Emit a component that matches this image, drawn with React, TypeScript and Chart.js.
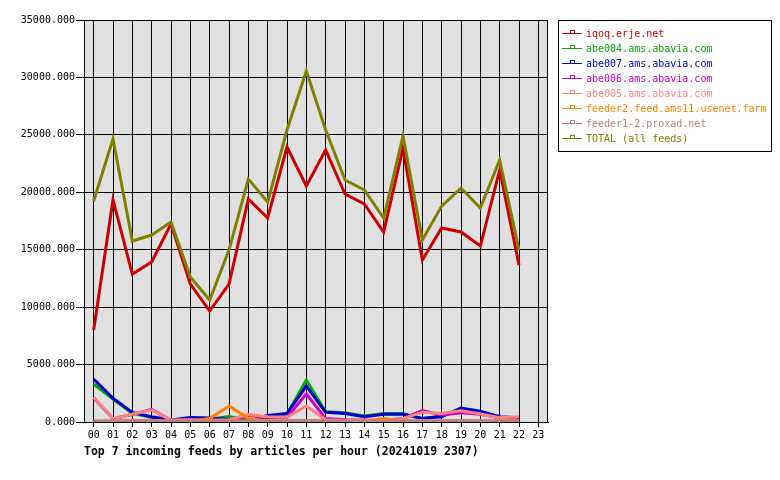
import React, { useEffect, useRef } from "react";
import { Chart, registerables } from "chart.js";

Chart.register(...registerables);

const hours = ["00","01","02","03","04","05","06","07","08","09","10","11","12","13","14","15","16","17","18","19","20","21","22","23"];

const iqoq = [8010,19330,12880,13930,17240,12010,9660,12010,19410,17760,23940,20550,23680,19850,18980,16540,23850,14100,16890,16540,15320,21940,13670];
const abe004 = [3310,2000,750,400,120,350,250,480,150,250,700,3650,900,810,520,750,750,260,550,1000,750,350,380];
const abe007 = [3740,2060,840,460,170,400,350,230,100,560,750,3130,840,730,460,670,670,320,460,1220,930,460,380];
const abe006 = [2100,290,650,1100,150,200,150,200,600,420,400,2440,300,200,150,150,300,1000,610,810,670,380,400];
const abe005 = [2150,290,670,1040,170,200,150,200,650,460,420,1390,200,150,150,150,300,840,750,980,700,380,460];
const feeder2 = [50,60,60,80,40,50,300,1390,320,80,60,80,60,60,60,300,80,60,60,60,60,60,60];
const feeder1 = [110,110,120,120,110,110,110,120,110,110,120,120,110,110,110,110,120,110,110,120,110,110,110];
const total = [19240,24640,15760,16280,17410,12620,10620,14970,21150,19150,25420,30560,25420,21070,20200,17760,24900,15850,18800,20370,18630,22810,14970];

const seriesNames = [
  "iqoq.erje.net",
  "abe004.ams.abavia.com",
  "abe007.ams.abavia.com",
  "abe006.ams.abavia.com",
  "abe005.ams.abavia.com",
  "feeder2.feed.ams11.usenet.farm",
  "feeder1-2.proxad.net",
  "TOTAL (all feeds)",
];
const seriesColors = ["#cc0000","#00aa00","#0000cc","#cc00cc","#ff8080","#ff8000","#c08080","#808000"];
const seriesData = [iqoq, abe004, abe007, abe006, abe005, feeder2, feeder1, total];
const titleText = "Top 7 incoming feeds by articles per hour (20241019 2307)";
const yTicks = [0,5000,10000,15000,20000,25000,30000,35000];

const MONO = "'DejaVu Sans Mono', 'Liberation Mono', monospace";

const overlayPlugin = {
  id: "overlay",
  afterDraw(chart: any) {
    const ctx = chart.ctx;
    const a = chart.chartArea;
    ctx.save();
    // plot frame
    ctx.strokeStyle = "#000000";
    ctx.lineWidth = 1;
    ctx.strokeRect(Math.round(a.left) + 0.5, Math.round(a.top) + 0.5, Math.round(a.right - a.left) - 1, Math.round(a.bottom - a.top));
    // legend box
    const bx = 558, by = 20, bw = 213, bh = 131;
    ctx.fillStyle = "#ffffff";
    ctx.fillRect(bx, by, bw, bh);
    ctx.strokeStyle = "#000000";
    ctx.lineWidth = 1;
    ctx.strokeRect(bx + 0.5, by + 0.5, bw, bh);
    ctx.font = "10px " + MONO;
    ctx.textBaseline = "middle";
    ctx.textAlign = "left";
    seriesNames.forEach((name, i) => {
      const y = 33 + i * 15;
      const c = seriesColors[i];
      ctx.strokeStyle = c;
      ctx.lineWidth = 1;
      ctx.beginPath();
      ctx.moveTo(562, y + 0.5);
      ctx.lineTo(582, y + 0.5);
      ctx.stroke();
      ctx.strokeRect(570.5, y - 2.5, 4, 3);
      ctx.fillStyle = c;
      ctx.fillText(name, 586, y + 1);
    });
    // title
    ctx.fillStyle = "#000000";
    ctx.font = "bold 11.5px " + MONO;
    ctx.textAlign = "left";
    ctx.fillText(titleText, 84, 452);
    ctx.restore();
  },
};

const bgPlugin = {
  id: "plotbg",
  beforeDraw(chart: any) {
    const { ctx, chartArea } = chart;
    ctx.save();
    ctx.fillStyle = "#ffffff";
    ctx.fillRect(0, 0, chart.width, chart.height);
    ctx.fillStyle = "#e0e0e0";
    ctx.fillRect(chartArea.left, chartArea.top, chartArea.right - chartArea.left, chartArea.bottom - chartArea.top);
    ctx.restore();
  },
};

export default function App() {
  const ref = useRef<HTMLCanvasElement>(null);
  useEffect(() => {
    if (!ref.current) return;
    const n = seriesNames.length;
    const chart = new Chart(ref.current, {
      type: "line",
      data: {
        labels: hours,
        datasets: seriesNames.map((name, i) => ({
          label: name,
          data: seriesData[i],
          borderColor: seriesColors[i],
          backgroundColor: seriesColors[i],
          borderWidth: 3,
          pointRadius: 0,
          tension: 0,
          fill: false,
          order: n - 1 - i,
        })),
      },
      options: {
        animation: false,
        responsive: false,
        maintainAspectRatio: false,
        layout: { padding: { left: 0, right: 232, top: 20, bottom: 0 } },
        plugins: {
          legend: { display: false },
          title: { display: false },
          tooltip: { enabled: false },
        },
        scales: {
          x: {
            offset: true,
            grid: { color: "#000000", lineWidth: 1, offset: false, tickLength: 5, drawTicks: true },
            border: { color: "#000000", width: 1 },
            ticks: { color: "#000000", font: { family: MONO, size: 10 }, padding: 2, maxRotation: 0, autoSkip: false },
            afterFit: (s: any) => { s.height = 58; },
          },
          y: {
            min: 0,
            max: 35000,
            afterBuildTicks: (s: any) => { s.ticks = yTicks.map((v) => ({ value: v })); },
            grid: { color: "#000000", lineWidth: 1, tickLength: 8, drawTicks: true },
            border: { color: "#000000", width: 1 },
            ticks: {
              color: "#000000",
              font: { family: MONO, size: 10 },
              padding: 1,
              callback: (v: any) => Number(v).toFixed(3),
            },
            afterFit: (s: any) => { s.width = 84; },
          },
        },
      },
      plugins: [bgPlugin, overlayPlugin],
    });
    return () => chart.destroy();
  }, []);
  return (
    <div style={{ position: "fixed", left: 0, top: 0, width: 780, height: 480, background: "#fff" }}>
      <canvas ref={ref} width={780} height={480} style={{ width: 780, height: 480 }} />
    </div>
  );
}
